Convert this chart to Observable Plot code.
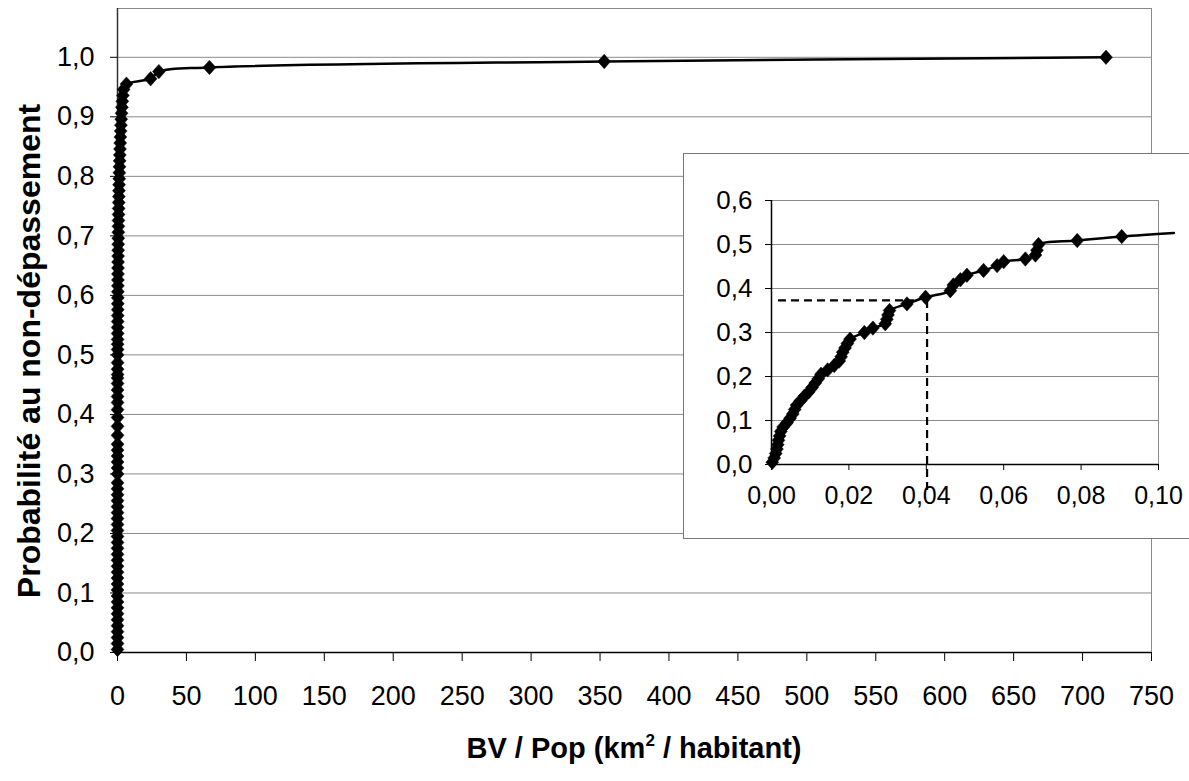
<!DOCTYPE html>
<html>
<head>
<meta charset="utf-8">
<script src="https://cdn.jsdelivr.net/npm/d3@7"></script>
<script src="https://cdn.jsdelivr.net/npm/@observablehq/plot@0.6"></script>
<style>
  body { margin: 0; background: #fff; }
  #wrap { position: relative; width: 1189px; height: 781px; overflow: hidden; background: #fff;
          font-family: Arial, "Liberation Sans", sans-serif; color: #000; }
  #main { position: absolute; left: 0; top: 0; }
  #insetBox { position: absolute; left: 683px; top: 153px; width: 560px; height: 386px;
              box-sizing: border-box; border: 1px solid #777; background: #fff; }
  #inset { position: absolute; left: 683px; top: 153px; }
  #ytitle { position: absolute; left: 29px; top: 351px; transform: translate(-50%, -50%) rotate(-90deg);
            white-space: nowrap; font-weight: bold; font-size: 32px; line-height: 1; }
  #xtitle { position: absolute; left: 634px; top: 732px; transform: translateX(-50%);
            white-space: nowrap; font-weight: bold; font-size: 29px; }
  #xtitle .sup { font-size: 17px; position: relative; top: -12px; }
</style>
</head>
<body>
<div id="wrap">
  <div id="main"></div>
  <div id="insetBox"></div>
  <div id="inset"></div>
  <div id="ytitle">Probabilité au non-dépassement</div>
  <div id="xtitle">BV / Pop (km<span class="sup">2</span> / habitant)</div>
</div>
<script>
// ---- Data (BV/Pop in km²/habitant, probability of non-exceedance) ----
const bvPop = [
  0.0002, 0.0007, 0.0011, 0.0014, 0.0016, 0.0018, 0.0021, 0.0024, 0.0030, 0.0040,
  0.0048, 0.0055, 0.0060, 0.0065, 0.0075, 0.0085, 0.0096, 0.0105, 0.0113, 0.0121,
  0.0128, 0.0145, 0.0162, 0.0175, 0.0180, 0.0184, 0.0190, 0.0196, 0.0203, 0.0240,
  0.0262, 0.0294, 0.0298, 0.0301, 0.0305, 0.0350, 0.0398, 0.0462, 0.0470, 0.0488,
  0.0505, 0.0548, 0.0583, 0.0600, 0.0656, 0.0682, 0.0686, 0.0690, 0.0790, 0.0905,
  0.1040, 0.12, 0.135, 0.15, 0.17, 0.19, 0.21, 0.23, 0.25, 0.27,
  0.30, 0.33, 0.36, 0.40, 0.44, 0.48, 0.52, 0.56, 0.61, 0.66,
  0.71, 0.77, 0.83, 0.90, 0.98, 1.06, 1.15, 1.25, 1.35, 1.45,
  1.56, 1.68, 1.80, 1.95, 2.10, 2.30, 2.50, 2.70, 2.95, 3.2,
  3.5, 3.9, 4.4, 6.5, 24, 30, 66.7, 353, 717
];
const probNonDep = [
  0.005, 0.015, 0.025, 0.035, 0.045, 0.055, 0.065, 0.075, 0.085, 0.095,
  0.105, 0.115, 0.125, 0.135, 0.145, 0.155, 0.165, 0.175, 0.185, 0.195,
  0.205, 0.215, 0.225, 0.235, 0.245, 0.255, 0.265, 0.275, 0.285, 0.300,
  0.310, 0.320, 0.330, 0.340, 0.350, 0.365, 0.380, 0.395, 0.408, 0.420,
  0.430, 0.441, 0.452, 0.461, 0.467, 0.476, 0.487, 0.500, 0.509, 0.518,
  0.526, 0.536, 0.546, 0.556, 0.566, 0.576, 0.586, 0.596, 0.606, 0.616,
  0.626, 0.636, 0.646, 0.656, 0.666, 0.676, 0.686, 0.696, 0.706, 0.716,
  0.726, 0.736, 0.746, 0.756, 0.766, 0.776, 0.786, 0.796, 0.806, 0.816,
  0.826, 0.836, 0.846, 0.856, 0.866, 0.876, 0.886, 0.896, 0.906, 0.916,
  0.926, 0.936, 0.946, 0.955, 0.964, 0.976, 0.983, 0.993, 1.000
];

// Main chart ticks
const mainXTicks = [0, 50, 100, 150, 200, 250, 300, 350, 400, 450, 500, 550, 600, 650, 700, 750];
const mainYTicks = [0, 0.1, 0.2, 0.3, 0.4, 0.5, 0.6, 0.7, 0.8, 0.9, 1.0];
// Inset ticks
const insetXTicks = [0, 0.02, 0.04, 0.06, 0.08, 0.10];
const insetYTicks = [0, 0.1, 0.2, 0.3, 0.4, 0.5, 0.6];
// Inset reading guide (dashed): probability 0.373 -> BV/Pop 0.0402
const guideProb = 0.373;
const guideBv = 0.0402;
const guideStartBv = 0.0018;
const guideHEndBv = 0.037;
const guideBottom = -0.059;

const data = bvPop.map((x, i) => ({x, y: probNonDep[i]}));
const fmtComma = (d, n) => d.toFixed(n).replace(".", ",");
const font = 'Arial, "Liberation Sans", sans-serif';

// slightly tall diamond marker (like the Excel marker in the scan)
const tallDiamond = {
  draw(context, size) {
    const r = Math.sqrt(size) * 0.62625;
    const h = r * 1.12;
    context.moveTo(0, -h);
    context.lineTo(r, 0);
    context.lineTo(0, h);
    context.lineTo(-r, 0);
    context.closePath();
  }
};

const mainPlot = Plot.plot({
  width: 1189, height: 781,
  marginLeft: 117, marginRight: 38, marginTop: 8, marginBottom: 129,
  x: {domain: [0, 750], label: null},
  y: {domain: [0, 1.082], label: null},
  style: {fontFamily: font, fontSize: "27px", color: "#000", background: "transparent", overflow: "visible"},
  marks: [
    Plot.ruleY(mainYTicks.filter(d => d > 0), {stroke: "#8a8a8a", strokeWidth: 1}),
    Plot.frame({stroke: "#8a8a8a", strokeWidth: 1}),
    Plot.ruleX([0], {stroke: "#333", strokeWidth: 1.5}),
    Plot.ruleY([0], {stroke: "#000", strokeWidth: 1.5}),
    Plot.axisX({ticks: mainXTicks, tickSize: 9, tickPadding: 24, tickFormat: d => String(d), label: null, fontSize: 27}),
    Plot.axisY({ticks: mainYTicks, tickSize: 7, tickPadding: 16, tickFormat: d => fmtComma(d, 1), label: null, fontSize: 27}),
    Plot.line(data, {x: "x", y: "y", curve: "catmull-rom", stroke: "#000", strokeWidth: 2.5}),
    Plot.dot(data, {x: "x", y: "y", symbol: tallDiamond, r: 5.8, fill: "#000", stroke: "#000", strokeWidth: 0.5})
  ]
});
document.getElementById("main").appendChild(mainPlot);

const insetLine = data.filter(d => d.x <= 0.105);
const insetDots = data.filter(d => d.x <= 0.1);

const insetPlot = Plot.plot({
  width: 506, height: 385,
  marginLeft: 88, marginRight: 31, marginTop: 47, marginBottom: 74,
  x: {domain: [0, 0.1], label: null},
  y: {domain: [0, 0.6], label: null},
  style: {fontFamily: font, fontSize: "26px", color: "#000", background: "transparent", overflow: "visible"},
  marks: [
    Plot.ruleY(insetYTicks.filter(d => d > 0 && d < 0.6), {stroke: "#8a8a8a", strokeWidth: 1}),
    Plot.frame({stroke: "#8a8a8a", strokeWidth: 1}),
    Plot.ruleX([0], {stroke: "#000", strokeWidth: 1.5}),
    Plot.ruleY([0], {stroke: "#000", strokeWidth: 1.5}),
    Plot.axisX({ticks: insetXTicks, tickSize: 6, tickPadding: 16, tickFormat: d => fmtComma(d, 2), label: null, fontSize: 25}),
    Plot.axisY({ticks: insetYTicks, tickSize: 6, tickPadding: 13, tickFormat: d => fmtComma(d, 1), label: null, fontSize: 26}),
    Plot.ruleY([guideProb], {x1: guideStartBv, x2: guideHEndBv, stroke: "#000", strokeWidth: 2.2, strokeDasharray: "8,5"}),
    Plot.ruleX([guideBv], {y1: guideBottom, y2: guideProb, stroke: "#000", strokeWidth: 2.2, strokeDasharray: "8,5"}),
    Plot.line(insetLine, {x: "x", y: "y", curve: "catmull-rom", stroke: "#000", strokeWidth: 2.5}),
    Plot.dot(insetDots, {x: "x", y: "y", symbol: tallDiamond, r: 5.8, fill: "#000", stroke: "#000", strokeWidth: 0.5})
  ]
});
document.getElementById("inset").appendChild(insetPlot);
</script>
</body>
</html>
